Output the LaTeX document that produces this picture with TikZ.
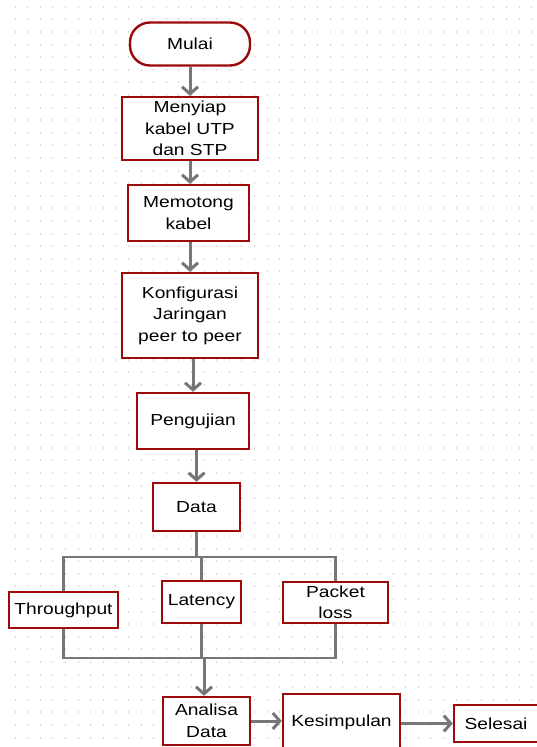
\documentclass[tikz,border=0pt]{standalone}
\usepackage{fontspec}
\setmainfont{Liberation Sans}[FakeStretch=1.2]
\usetikzlibrary{arrows.meta}
\definecolor{cbox}{HTML}{9C0A0A}
\definecolor{cln}{HTML}{777777}
\definecolor{cdot}{HTML}{D2D2D2}

\begin{document}
\begin{tikzpicture}[x=1pt,y=-1pt,
  box/.style={draw=cbox, line width=2.4pt, fill=white, align=center, inner sep=0pt,
    font=\fontsize{16}{21.5}\selectfont},
  term/.style={box, rounded corners=20pt},
  arr/.style={draw=cln, line width=3pt, -{Straight Barb[length=7pt,width=16pt]}},
  link/.style={draw=cln, line width=2.2pt}]
  \useasboundingbox (0,0) rectangle (537,747);
  \fill[white] (0,0) rectangle (537,747);
  % dotted grid of the sheet
  \foreach \i in {0,...,41} {\foreach \j in {0,...,58} {
    \fill[cdot] ({14.5+12.6*\i},{5.7+12.6*\j}) rectangle ++(1,2);}}
  \node[term, minimum width=120pt, minimum height=43pt] (mulai) at (190,44) {Mulai};
  \node[box, minimum width=136pt, minimum height=63pt] (siap) at (190,128.5) {Menyiap\\kabel UTP\\dan STP};
  \node[box, minimum width=121pt, minimum height=56pt] (potong) at (188.5,213) {Memotong\\kabel};
  \node[box, minimum width=136pt, minimum height=85pt] (konfig) at (190,315.5) {Konfigurasi\\Jaringan\\peer to peer};
  \node[box, minimum width=112pt, minimum height=56pt] (uji) at (193,421) {Pengujian};
  \node[box, minimum width=87pt, minimum height=48pt] (data) at (196.5,507) {Data};
  \node[box, minimum width=109pt, minimum height=36pt] (tput) at (63.5,610) {Throughput};
  \node[box, minimum width=79pt, minimum height=42pt] (lat) at (201.5,602) {Latency};
  \node[box, minimum width=105pt, minimum height=41pt] (ploss) at (335.5,602.5) {Packet\\loss};
  \node[box, minimum width=87pt, minimum height=48pt] (analisa) at (206.5,721) {Analisa\\Data};
  \node[box, minimum width=117pt, minimum height=56pt] (kesimp) at (341.5,722) {Kesimpulan};
  \node[box, minimum width=84pt, minimum height=37pt] (selesai) at (496,723.5) {Selesai};
  \coordinate (split) at (198,557);
  \coordinate (merge) at (204,658);
  \draw[arr] (mulai) -- (siap);
  \draw[arr] (siap.south) -- (siap.south |- potong.north);
  \draw[arr] (siap.south |- potong.south) -- (siap.south |- konfig.north);
  \draw[arr] (uji.north |- konfig.south) -- (uji.north);
  \draw[arr] (data.north |- uji.south) -- (data.north);
  % branches to the three measurements
  \draw[link] (data.south) -- (data.south |- split);
  \draw[link] (tput.north) |- (split) -| (ploss.north);
  \draw[link] (lat.north) -- (lat.north |- split);
  \draw[link] (tput.south) |- (merge) -| (ploss.south);
  \draw[link] (lat.south) -- (lat.south |- merge);
  \draw[arr] (merge) -- (merge |- analisa.north);
  \draw[arr] (analisa.east) -- (analisa.east -| kesimp.west);
  \draw[arr] (kesimp.east |- selesai) -- (selesai.west);
\end{tikzpicture}
\end{document}
